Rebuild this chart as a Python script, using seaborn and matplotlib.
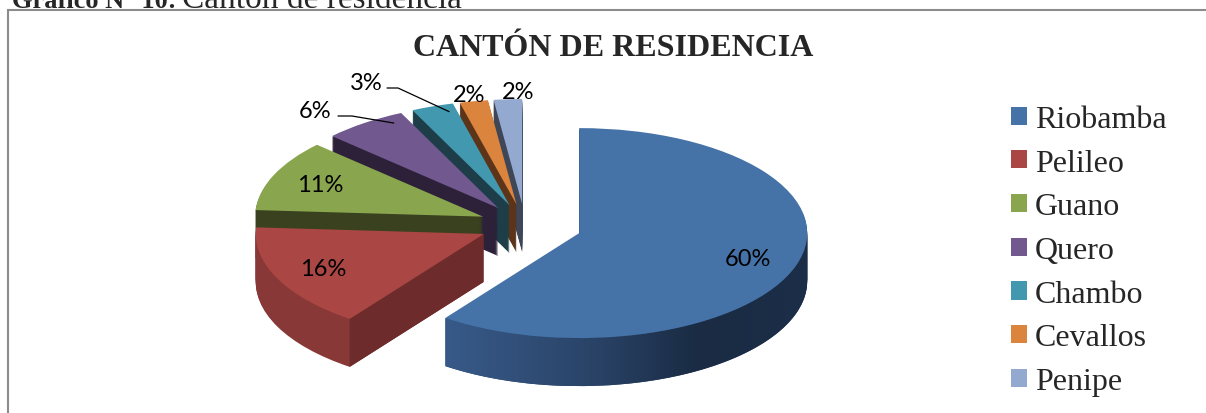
import matplotlib
matplotlib.use("Agg")
import matplotlib.pyplot as plt
import numpy as np
import seaborn as sns
from matplotlib.colors import LinearSegmentedColormap
from matplotlib.patches import Polygon, Rectangle

# %%
cantones = ["Riobamba", "Pelileo", "Guano", "Quero", "Chambo", "Cevallos", "Penipe"]
porcentajes = [60, 16, 11, 6, 3, 2, 2]

colores = ["#4572A7", "#AA4643", "#89A54E", "#71588F", "#4198AF", "#DB843D", "#93A9CF"]
colores_lado = ["#2A4367", "#883836", "#39411E", "#2C2139", "#1D3E48", "#5C3419", "#3E4658"]
explode = [0.25, 0.2, 0.2, 0.2, 0.2, 0.2, 0.2]

W, H = 1206, 414
sns.set_theme(style="white")
plt.rcParams["font.family"] = ["Liberation Serif", "DejaVu Serif"]

# %%
fig = plt.figure(figsize=(W / 100, H / 100), dpi=100)
ax = fig.add_axes([0, 0, 1, 1])

# centro del pastel en pixeles y escala de la elipse
cx, cy = 525, 226
rx, ry = 228, 105
profundidad = 48 / ry


def px(x, y):
    return ((x - cx) / rx, (cy - y) / ry)


# angulos de cada porcion (sentido horario desde las 12)
bordes = 90 - np.concatenate([[0], np.cumsum(porcentajes)]) * 3.6
medios_deg = (bordes[:-1] + bordes[1:]) / 2
medios = np.deg2rad(medios_deg)
centros = [(e * np.cos(a), e * np.sin(a)) for e, a in zip(explode, medios)]

# lados del pastel 3D: capas apiladas
for d in np.linspace(profundidad, 0.01, 48):
    ax.pie(porcentajes, explode=explode, colors=colores_lado, startangle=90,
           counterclock=False, center=(0, -d),
           wedgeprops=dict(linewidth=0, antialiased=True))

# pared frontal de Riobamba con degradado
t = np.deg2rad(np.linspace(bordes[1], 0, 80))
c0 = centros[0]
arriba = np.column_stack([c0[0] + np.cos(t), c0[1] + np.sin(t)])
abajo = arriba[::-1] - [0, profundidad]
pared = Polygon(np.vstack([arriba, abajo]), closed=True, facecolor="none", edgecolor="none")
ax.add_patch(pared)
degradado = LinearSegmentedColormap.from_list(
    "lado", [(0, "#385A89"), (0.4, "#2A4468"), (0.7, "#1A2B43"), (1, "#1C2E48")])
x0, x1 = arriba[:, 0].min(), arriba[:, 0].max()
img = ax.imshow(np.linspace(0, 1, 256)[None, :], cmap=degradado, aspect="auto",
                extent=(x0, x1, abajo[:, 1].min(), arriba[:, 1].max()), zorder=1.5)
img.set_clip_path(pared)

# cara radial de Pelileo (mas oscura)
c1 = centros[1]
a1 = np.deg2rad(bordes[1])
borde = (c1[0] + np.cos(a1), c1[1] + np.sin(a1))
ax.add_patch(Polygon([c1, borde, (borde[0], borde[1] - profundidad),
                      (c1[0], c1[1] - profundidad)], closed=True,
                     facecolor="#6D2C2B", edgecolor="none", zorder=1.5))

wedges, _, autotexts = ax.pie(
    porcentajes, explode=explode, colors=colores, startangle=90,
    counterclock=False, autopct="%1.0f%%", pctdistance=0.78,
    wedgeprops=dict(linewidth=0, antialiased=True, zorder=2),
    textprops=dict(family="Lato", fontsize=17, color="black", zorder=3),
)

ax.set_aspect("auto")
ax.set_xlim(-cx / rx, (W - cx) / rx)
ax.set_ylim(-(H - cy) / ry, cy / ry)
ax.axis("off")

# etiquetas de las porciones pequenas
autotexts[5].set_position(px(469, 95))
autotexts[6].set_position(px(518, 92))

# etiquetas con linea guia: texto, inicio y codo de la linea
lideres = {
    3: (px(315, 111), px(338, 117), px(352, 117)),
    4: (px(366, 84), px(387, 89), px(398, 89)),
}
for i, (pos, inicio, codo) in lideres.items():
    autotexts[i].set_position(pos)
    span = bordes[i] - bordes[i + 1]
    a = np.deg2rad(medios_deg[i] - 0.3 * span)
    punta = (centros[i][0] + 0.93 * np.cos(a), centros[i][1] + 0.93 * np.sin(a))
    ax.plot([inicio[0], codo[0], punta[0]], [inicio[1], codo[1], punta[1]],
            color="black", lw=0.9, zorder=3)

# titulo y leyenda
fig.text(613 / W, 1 - 49 / H, "CANTÓN DE RESIDENCIA", ha="center", va="center",
         fontsize=23, fontweight="bold")

ax.legend(wedges, cantones, loc="upper left",
          bbox_to_anchor=(1011 / W, 1 - 106 / H), bbox_transform=fig.transFigure,
          frameon=False, fontsize=23, handlelength=0.5, handleheight=0.5,
          handletextpad=0.25, labelspacing=0.46, borderpad=0, borderaxespad=0)

# marco del grafico y rotulo superior
fig.patches.append(Rectangle((8 / W, -0.1), 1.2, 1.1 - 11 / H, transform=fig.transFigure,
                             fill=False, edgecolor="#8c8c8c", lw=1.5))
fig.text(12 / W, 1 - 8 / H, "Gráfico N° 10:", ha="left", va="baseline",
         fontsize=19, fontweight="bold")
fig.text(182 / W, 1 - 8 / H, "Cantón de residencia", ha="left", va="baseline",
         fontsize=24)

fig.savefig("out.png", dpi=100)
